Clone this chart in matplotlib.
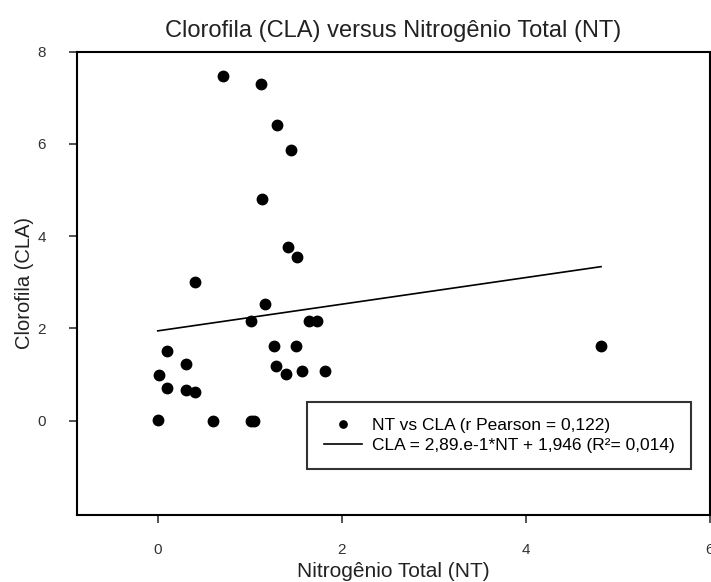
import numpy as np
import matplotlib.pyplot as plt

plt.rcParams['font.family'] = ['Liberation Sans', 'DejaVu Sans']

# nitrogenio total (NT) and clorofila (CLA)
nt = [0.71, 1.12, 1.30, 1.45, 1.13, 1.42, 1.51, 0.40, 1.17, 1.01, 1.64, 1.73,
      0.10, 1.26, 1.50, 0.31, 1.29, 1.40, 1.57, 1.82, 0.01, 0.10, 0.31, 0.40,
      0.00, 0.60, 1.01, 1.05, 4.82]
cla = [7.48, 7.31, 6.41, 5.88, 4.81, 3.77, 3.55, 3.00, 2.52, 2.15, 2.15, 2.15,
       1.52, 1.62, 1.62, 1.23, 1.19, 1.02, 1.08, 1.08, 0.98, 0.70, 0.66, 0.62,
       0.01, 0.00, 0.00, 0.00, 1.62]

slope = 0.289
intercept = 1.946

x_ticks = [0, 2, 4, 6]
y_ticks = [0, 2, 4, 6, 8]


def main():
    fig = plt.figure(figsize=(7.11, 5.82), dpi=100)
    ax = fig.add_axes([0.108, 0.115, 0.89, 0.796])

    ax.plot(nt, cla, 'o', color='black', markersize=7.5, linestyle='none',
            label='NT vs CLA (r Pearson = 0,122)')
    xl = np.array([min(nt), max(nt)])
    ax.plot(xl, slope * xl + intercept, color='black', linewidth=1.2,
            label='CLA = 2,89.e-1*NT + 1,946 (R²= 0,014)')

    ax.set_xlim(-0.88, 6)
    ax.set_ylim(-2.05, 8)
    ax.set_xticks(x_ticks)
    ax.set_yticks(y_ticks)
    ax.tick_params(direction='out', length=6, width=1.2, labelsize=11,
                   colors='#333333')
    ax.tick_params(axis='x', pad=14)
    ax.tick_params(axis='y', pad=16)
    for s in ax.spines.values():
        s.set_linewidth(1.5)

    ax.set_title('Clorofila (CLA) versus Nitrogênio Total (NT)', fontsize=17,
                 color='#222222', pad=11)
    ax.set_xlabel('Nitrogênio Total (NT)', fontsize=15, color='#222222',
                  labelpad=4)
    ax.set_ylabel('Clorofila (CLA)', fontsize=14.5, color='#222222',
                  labelpad=3)

    leg = ax.legend(loc='lower right', bbox_to_anchor=(0.985, 0.08),
                    fontsize=12.5, frameon=True, fancybox=False,
                    edgecolor='black', markerscale=0.7, handlelength=2.2,
                    handletextpad=0.6, borderpad=0.95, labelspacing=0.25)
    leg.get_frame().set_linewidth(1.5)

    fig.savefig('out.png', dpi=100)


if __name__ == "__main__":
    main()
